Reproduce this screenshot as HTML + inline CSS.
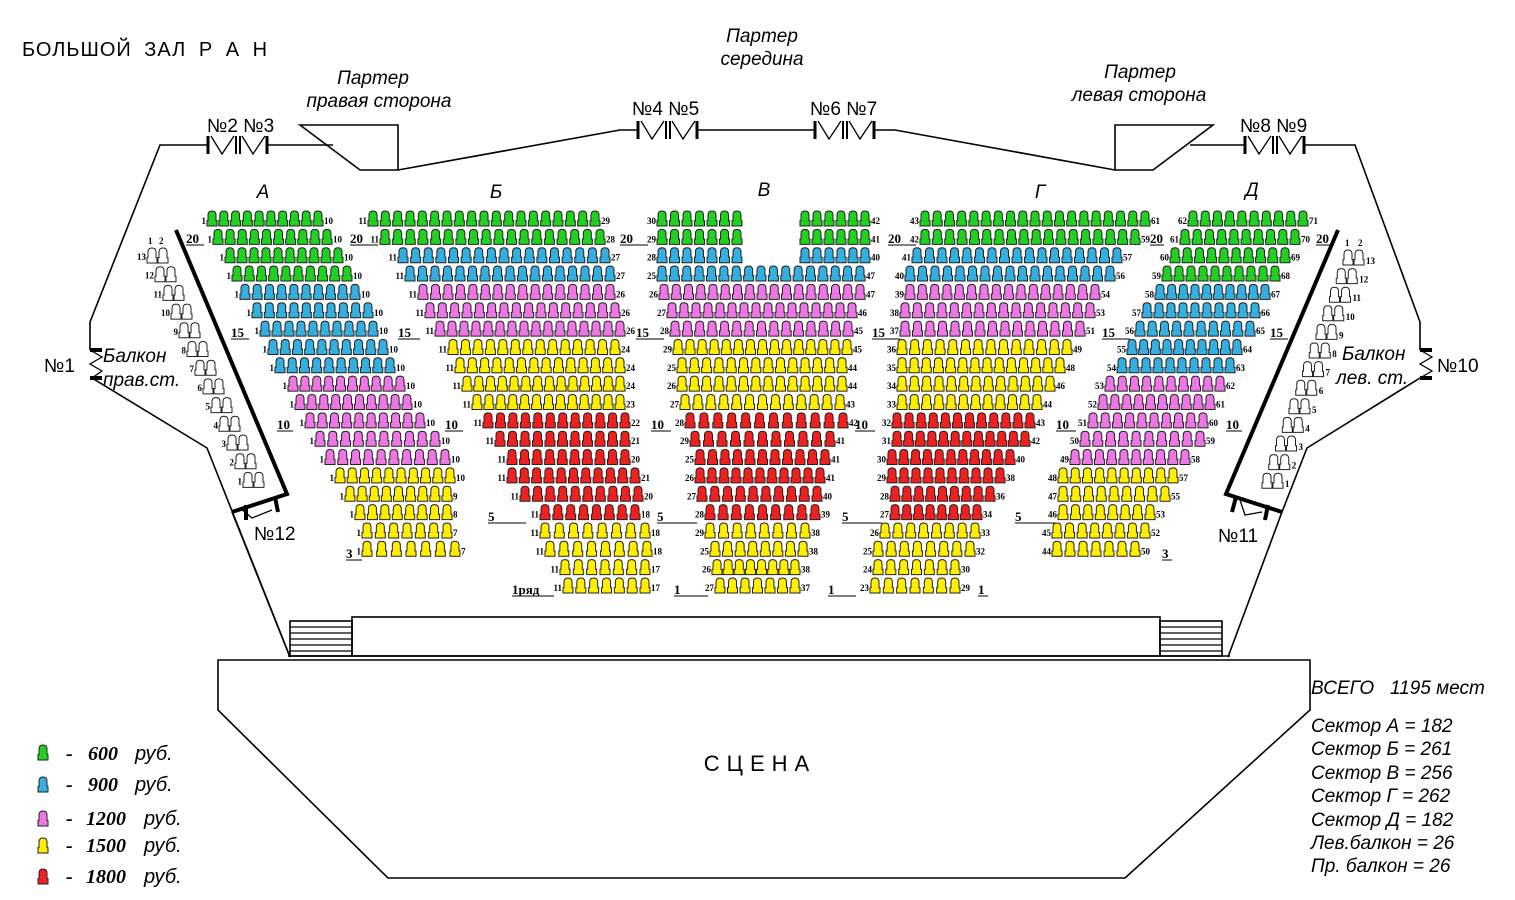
<!DOCTYPE html>
<html><head><meta charset="utf-8">
<style>
html,body{margin:0;padding:0;background:#fff;}
svg{display:block;}
.t{font-family:"Liberation Sans",sans-serif;fill:#000;}
.n{font-family:"Liberation Serif",serif;font-weight:bold;font-size:9px;fill:#000;}
.L{font-family:"Liberation Serif",serif;font-weight:bold;font-size:13px;fill:#000;}
</style></head><body>
<svg id="s" width="1515" height="900" viewBox="0 0 1515 900" xmlns="http://www.w3.org/2000/svg">
<g fill="none" stroke="#000" stroke-width="1.6">
<polyline points="208,145 160,145 90,322 90,350"/>
<polyline points="92,378 207,448 290,657"/>
<polyline points="1305,145 1355,145 1420,322 1420,350"/>
<polyline points="1420,378 1307,448 1282,512 1228,657"/>
<polyline points="232,512 290,657"/>
<line x1="268" y1="145" x2="333" y2="145"/>
<polygon points="300,125 398,125 398,170 360,170"/>
<polyline points="398,170 620,130 638,130"/>
<line x1="697" y1="130" x2="815" y2="130"/>
<polyline points="875,130 895,130 1115,170"/>
<polygon points="1115,125 1213,125 1153,170 1115,170"/>
<line x1="1190" y1="145" x2="1245" y2="145"/>
<polygon points="218,660 1310,660 1310,710 1125,878 388,878 218,710"/>
<line x1="288" y1="656" x2="1230" y2="656"/>
<rect x="352" y="617" width="808" height="39"/>
<rect x="290" y="621" width="62" height="35"/>
<rect x="1160" y="621" width="62" height="35"/>
</g>
<g stroke="#000" stroke-width="1.3">
<line x1="290" y1="627" x2="352" y2="627"/><line x1="290" y1="633" x2="352" y2="633"/><line x1="290" y1="639" x2="352" y2="639"/><line x1="290" y1="645" x2="352" y2="645"/><line x1="290" y1="651" x2="352" y2="651"/>
<line x1="1160" y1="627" x2="1222" y2="627"/><line x1="1160" y1="633" x2="1222" y2="633"/><line x1="1160" y1="639" x2="1222" y2="639"/><line x1="1160" y1="645" x2="1222" y2="645"/><line x1="1160" y1="651" x2="1222" y2="651"/>
</g>
<g fill="none" stroke="#000" stroke-width="4">
<polyline points="176,230 287,494 232,512"/>
<polyline points="1338,230 1226,494 1282,512"/>
<line x1="90" y1="350" x2="102" y2="350"/><line x1="90" y1="378" x2="102" y2="378"/>
<line x1="1420" y1="350" x2="1432" y2="350"/><line x1="1420" y1="378" x2="1432" y2="378"/>
<line x1="246" y1="505" x2="246" y2="520"/><line x1="275" y1="497" x2="278" y2="512"/>
<line x1="1236" y1="497" x2="1232" y2="512"/><line x1="1268" y1="505" x2="1265" y2="520"/>
</g>
<g fill="none" stroke="#000" stroke-width="1.3">
<polyline points="90,350 102,357 90,364 102,371 92,378"/>
<polyline points="1420,350 1432,357 1420,364 1432,371 1420,378"/>
<polyline points="240,508 252,518 272,510"/>
<polyline points="1240,500 1245,515 1262,512"/>
</g>
<g id="doors"></g>
<g id="seats"></g>
<text class="t" x="22" y="56" font-size="20" letter-spacing="1" word-spacing="6">БОЛЬШОЙ ЗАЛ Р А Н</text>
<text class="t" x="762" y="42" font-size="19" font-style="italic" text-anchor="middle">Партер</text>
<text class="t" x="762" y="65" font-size="19" font-style="italic" text-anchor="middle">середина</text>
<text class="t" x="373" y="84" font-size="19" font-style="italic" text-anchor="middle">Партер</text>
<text class="t" x="379" y="107" font-size="19" font-style="italic" text-anchor="middle">правая сторона</text>
<text class="t" x="1140" y="78" font-size="19" font-style="italic" text-anchor="middle">Партер</text>
<text class="t" x="1139" y="101" font-size="19" font-style="italic" text-anchor="middle">левая сторона</text>
<text class="t" x="207" y="132" font-size="19">№2 №3</text>
<text class="t" x="632" y="115" font-size="19">№4 №5</text>
<text class="t" x="810" y="115" font-size="19">№6 №7</text>
<text class="t" x="1240" y="132" font-size="19">№8 №9</text>
<text class="t" x="44" y="372" font-size="19">№1</text>
<text class="t" x="1437" y="372" font-size="19">№10</text>
<text class="t" x="254" y="540" font-size="19">№12</text>
<text class="t" x="1218" y="542" font-size="19">№11</text>
<text class="t" x="103" y="362" font-size="19" font-style="italic">Балкон</text>
<text class="t" x="103" y="386" font-size="19" font-style="italic">прав.ст.</text>
<text class="t" x="1342" y="360" font-size="19" font-style="italic">Балкон</text>
<text class="t" x="1336" y="384" font-size="19" font-style="italic">лев. ст.</text>
<text class="t" x="263" y="198" font-size="19" font-style="italic" text-anchor="middle">А</text>
<text class="t" x="496" y="198" font-size="19" font-style="italic" text-anchor="middle">Б</text>
<text class="t" x="764" y="196" font-size="19" font-style="italic" text-anchor="middle">В</text>
<text class="t" x="1040" y="198" font-size="19" font-style="italic" text-anchor="middle">Г</text>
<text class="t" x="1252" y="196" font-size="19" font-style="italic" text-anchor="middle">Д</text>
<text class="t" x="760" y="771" font-size="22" text-anchor="middle" letter-spacing="7">СЦЕНА</text>
<g class="t" font-size="19" font-style="italic">
<text x="1311" y="694" xml:space="preserve">ВСЕГО   1195 мест</text>
<text x="1311" y="732">Сектор А = 182</text>
<text x="1311" y="755">Сектор Б = 261</text>
<text x="1311" y="779">Сектор В = 256</text>
<text x="1311" y="802">Сектор Г = 262</text>
<text x="1311" y="826">Сектор Д = 182</text>
<text x="1311" y="849">Лев.балкон = 26</text>
<text x="1311" y="872">Пр. балкон = 26</text>
</g>
<g font-family="Liberation Serif,serif" font-weight="bold" font-style="italic" font-size="20">
<text x="66" y="760">-</text><text x="88" y="760">600 <tspan font-family="Liberation Sans,sans-serif" font-weight="normal" x="135">руб.</tspan></text>
<text x="66" y="791">-</text><text x="88" y="791">900 <tspan font-family="Liberation Sans,sans-serif" font-weight="normal" x="135">руб.</tspan></text>
<text x="66" y="825">-</text><text x="86" y="825">1200 <tspan font-family="Liberation Sans,sans-serif" font-weight="normal" x="144">руб.</tspan></text>
<text x="66" y="852">-</text><text x="86" y="852">1500 <tspan font-family="Liberation Sans,sans-serif" font-weight="normal" x="144">руб.</tspan></text>
<text x="66" y="883">-</text><text x="86" y="883">1800 <tspan font-family="Liberation Sans,sans-serif" font-weight="normal" x="144">руб.</tspan></text>
</g>
</svg>
<script>
(function(){
var NS="http://www.w3.org/2000/svg";
var C={G:"#22d022",B:"#35aee0",P:"#ee77e6",Y:"#ffee00",R:"#ee2020",W:"#ffffff"};
var seats=document.getElementById("seats"),doors=document.getElementById("doors");
var d={};
function seat(x,y,c,w,h){w=w||10;h=h||15;
 var b=h*0.64,r=w*0.4;
 var p="M"+(x+1)+","+(y+b)+"V"+(y+r)+"Q"+(x+1)+","+y+" "+(x+w/2)+","+y+"Q"+(x+w-1)+","+y+" "+(x+w-1)+","+(y+r)+"V"+(y+b)+"H"+(x+w)+"V"+(y+h)+"H"+x+"V"+(y+b)+"Z";
 d[c]=(d[c]||"")+p;}
function txt(x,y,s,anchor,cls){var t=document.createElementNS(NS,"text");t.setAttribute("class",cls||"n");t.setAttribute("x",x);t.setAttribute("y",y);if(anchor)t.setAttribute("text-anchor",anchor);t.textContent=s;seats.appendChild(t);}
function ul(x,y,s,w){txt(x,y,s,null,"L");var l=document.createElementNS(NS,"line");l.setAttribute("x1",x);l.setAttribute("x2",x+(w||28));l.setAttribute("y1",y+2);l.setAttribute("y2",y+2);l.setAttribute("stroke","#000");seats.appendChild(l);}
function row(i,x0,x1,n,c,a,b){var y=211+i*18.35;var w=10;var p=n>1?(x1-x0-w)/(n-1):0;
 for(var k=0;k<n;k++)seat(x0+k*p,y,c);
 if(a!==undefined)txt(x0-1,y+13,a,"end");if(b!==undefined)txt(x1+1,y+13,b);}
var A=[[207,323,10,"G"],[213,332,10,"G"],[225,343,10,"G"],[232,352,10,"G"],[240,360,10,"B"],[252,373,10,"B"],[260,378,10,"B"],[268,388,10,"B"],[275,395,10,"B"],[288,405,10,"P"],[295,412,10,"P"],[305,425,10,"P"],[315,440,10,"P"],[325,450,10,"P"],[335,455,10,"Y"],[345,452,9,"Y"],[355,452,8,"Y"],[362,452,7,"Y"],[362,460,7,"Y"]];
A.forEach(function(r,i){row(i,r[0],r[1],r[2],C[r[3]],"1",String(r[2]));});
var B=[[368,600,19,"G"],[380,605,18,"G"],[398,610,17,"B"],[405,615,17,"B"],[418,615,16,"P"],[425,620,16,"P"],[435,625,16,"P"],[448,620,14,"Y"],[455,625,14,"Y"],[462,625,14,"Y"],[472,625,13,"Y"],[483,630,12,"R"],[495,630,11,"R"],[507,630,10,"R"],[507,640,11,"R"],[520,643,10,"R"],[540,640,8,"R"],[540,650,8,"Y"],[545,652,8,"Y"],[560,650,7,"Y"],[563,650,7,"Y"]];
B.forEach(function(r,i){row(i,r[0],r[1],r[2],C[r[3]],"11",String(10+r[2]));});
var V=[[657,865,17,"B"],[659,865,17,"P"],[667,857,16,"P"],[670,853,15,"P"],[673,852,15,"Y"],[677,847,14,"Y"],[677,847,14,"Y"],[680,845,13,"Y"],[685,848,12,"R"],[690,835,11,"R"],[695,830,11,"R"],[695,825,11,"R"],[697,822,10,"R"],[705,820,9,"R"],[705,810,8,"Y"],[710,808,8,"Y"],[712,800,8,"Y"],[715,800,7,"Y"]];
row(0,657,742,7,C.G,"30");row(0,800,870,6,C.G,undefined,"42");
row(1,657,742,7,C.G,"29");row(1,800,870,6,C.G,undefined,"41");
row(2,657,742,7,C.B,"28");row(2,800,870,6,C.B,undefined,"40");
V.forEach(function(r,j){row(j+3,r[0],r[1],r[2],C[r[3]],String(25+j%5),String(30+r[2]));});
var G=[[920,1150,19,"G"],[920,1140,18,"G"],[912,1122,17,"B"],[905,1115,17,"B"],[905,1100,16,"P"],[900,1095,16,"P"],[900,1085,15,"P"],[897,1072,14,"Y"],[897,1065,14,"Y"],[897,1055,13,"Y"],[897,1042,12,"Y"],[892,1035,12,"R"],[892,1030,12,"R"],[887,1015,11,"R"],[887,1005,10,"R"],[890,995,9,"R"],[890,982,8,"R"],[880,980,8,"Y"],[873,975,8,"Y"],[873,960,7,"Y"],[870,960,7,"Y"]];
G.forEach(function(r,i){row(i,r[0],r[1],r[2],C[r[3]],String(43-i),String(42-i+r[2]));});
var D=[[1188,1308,10,"G"],[1180,1300,10,"G"],[1170,1290,10,"G"],[1162,1280,10,"G"],[1155,1270,10,"B"],[1142,1260,10,"B"],[1135,1255,10,"B"],[1127,1242,10,"B"],[1117,1235,10,"B"],[1105,1225,10,"P"],[1098,1215,10,"P"],[1088,1208,10,"P"],[1080,1205,10,"P"],[1070,1190,10,"P"],[1058,1178,10,"Y"],[1058,1170,9,"Y"],[1058,1155,8,"Y"],[1052,1150,8,"Y"],[1052,1140,7,"Y"]];
D.forEach(function(r,i){row(i,r[0],r[1],r[2],C[r[3]],String(62-i),String(61-i+r[2]));});
for(var k=13;k>=1;k--){var j=13-k;
 var xl=147+j*8,yl=248+j*18.7;seat(xl,yl,C.W);seat(xl+11,yl,C.W);txt(xl-1,yl+12,String(k),"end");
 var xr=1343-j*6.75,yr=250+j*18.6;seat(xr,yr,C.W);seat(xr+11,yr,C.W);txt(xr+23,yr+14,String(k));}
txt(148,244,"1");txt(159,244,"2");txt(1345,246,"1");txt(1358,246,"2");
ul(186,243,"20",18);ul(350,243,"20");ul(620,243,"20");ul(888,243,"20");ul(1150,243,"20",14);ul(1316,243,"20",14);
ul(231,337,"15",18);ul(398,337,"15",22);ul(636,337,"15");ul(872,337,"15");ul(1102,337,"15");ul(1270,337,"15",18);
ul(277,429,"10",16);ul(445,429,"10",18);ul(651,429,"10",20);ul(855,429,"10",20);ul(1056,429,"10",20);ul(1226,429,"10",16);
ul(488,521,"5",38);ul(657,521,"5",40);ul(842,521,"5",40);ul(1015,521,"5",40);
ul(346,558,"3",16);ul(1162,558,"3",10);
ul(512,594,"1ряд",42);ul(674,594,"1",34);ul(828,594,"1",28);ul(978,594,"1",10);
seat(38,745,C.G);seat(38,777,C.B);seat(38,811,C.P);seat(38,838,C.Y);seat(38,869,C.R);
for(var c in d){var p=document.createElementNS(NS,"path");p.setAttribute("d",d[c]);p.setAttribute("fill",c);p.setAttribute("stroke","#222");p.setAttribute("stroke-width","1");seats.insertBefore(p,seats.firstChild);}
function door(x,c){var s='';var h=9;
 s+='<line x1="'+x+'" y1="'+(c-h)+'" x2="'+x+'" y2="'+(c+h)+'" stroke-width="3"/>';
 s+='<line x1="'+(x+28)+'" y1="'+(c-h)+'" x2="'+(x+28)+'" y2="'+(c+h)+'" stroke-width="2"/>';
 s+='<line x1="'+(x+32)+'" y1="'+(c-h)+'" x2="'+(x+32)+'" y2="'+(c+h)+'" stroke-width="2"/>';
 s+='<line x1="'+(x+59)+'" y1="'+(c-h)+'" x2="'+(x+59)+'" y2="'+(c+h)+'" stroke-width="3"/>';
 s+='<polyline fill="none" stroke-width="1.3" points="'+(x+3)+','+(c-h)+' '+(x+14)+','+(c+h)+' '+(x+26)+','+(c-h)+'"/>';
 s+='<polyline fill="none" stroke-width="1.3" points="'+(x+34)+','+(c-h)+' '+(x+45)+','+(c+h)+' '+(x+57)+','+(c-h)+'"/>';
 return s;}
doors.setAttribute("stroke","#000");
doors.innerHTML=door(208,145)+door(638,130)+door(815,130)+door(1245,145);
})();
</script>
</body></html>
